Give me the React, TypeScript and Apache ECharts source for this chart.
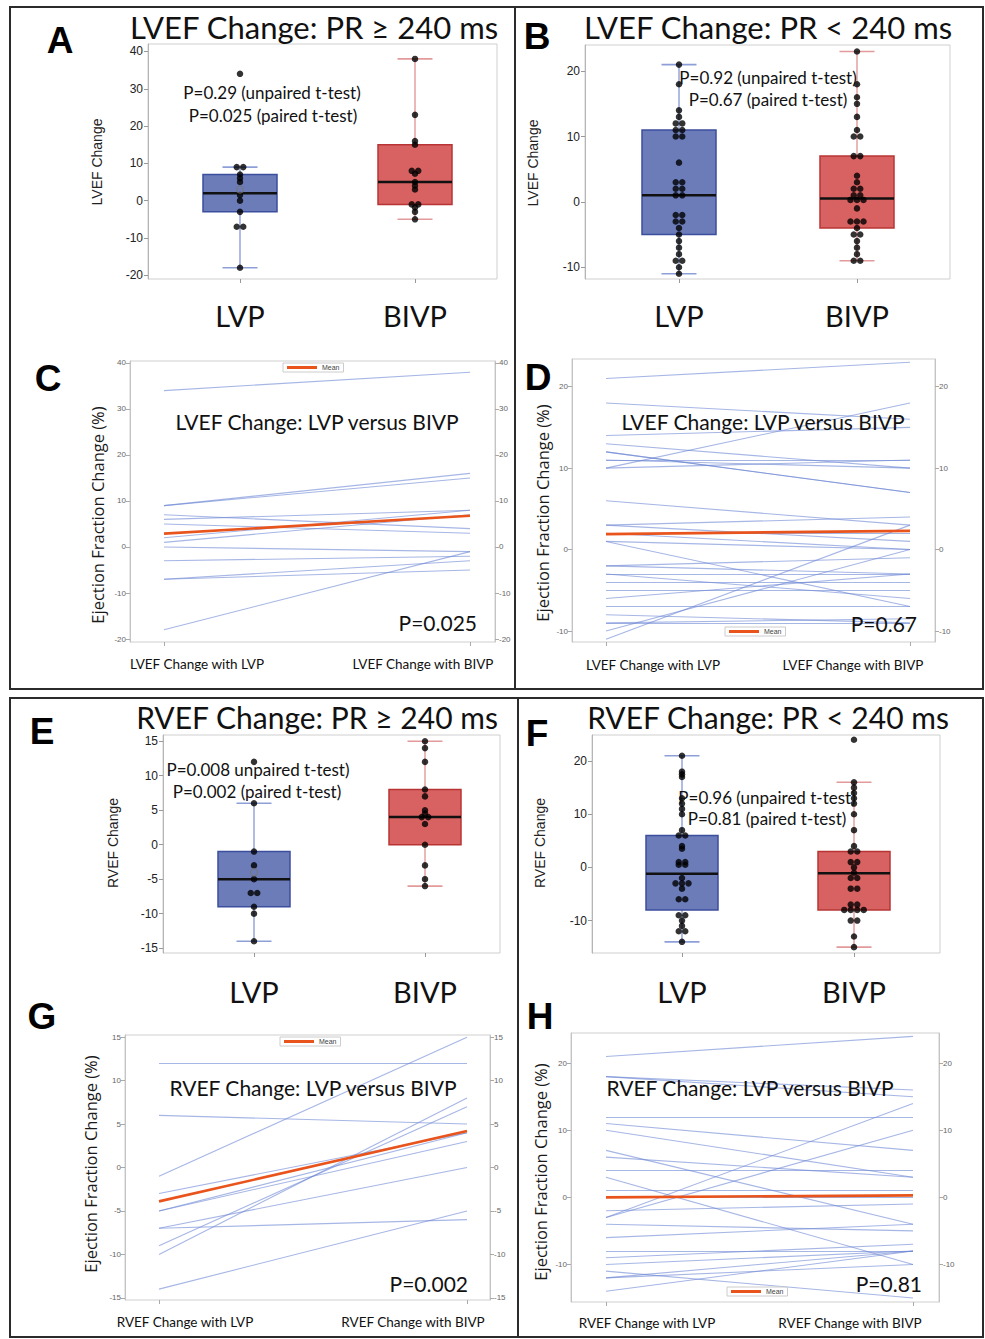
import React, { useEffect, useRef } from "react";
import * as echarts from "echarts";

// ---------------- data ----------------
const boxCategories = ["LVP", "BIVP"];
const lvPairLabels = ["LVEF Change with LVP", "LVEF Change with BIVP"];
const rvPairLabels = ["RVEF Change with LVP", "RVEF Change with BIVP"];

// Panel A: LVEF change, PR >= 240 ms  [low whisker, Q1, median, Q3, high whisker]
const aTicks = [-20, -10, 0, 10, 20, 30, 40];
const aLvpBox = [-18, -3, 2, 7, 9];
const aBivpBox = [-5, -1, 5, 15, 38];
const aLvpDots = [34, 9, 9, 7, 6, 5, 1.5, 0, -3, -7, -7, -18];
const aBivpDots = [38, 23, 16, 15, 8, 8, 7.2, 5, 4, 3, -1, -1, -1.8, -3, -5];
const aLvpMean = 3;

// Panel B: LVEF change, PR < 240 ms
const bTicks = [-10, 0, 10, 20];
const bLvpBox = [-11, -5, 1, 11, 21];
const bBivpBox = [-9, -4, 0.5, 7, 23];
const bLvpDots = [21, 18, 14, 13, 12, 12, 11, 11, 10, 10, 6, 3, 3, 2, 2, 1, 1, -2, -2, -3, -3, -4, -5, -6, -7, -8, -9, -9, -10, -11];
const bBivpDots = [23, 18, 16, 15, 13, 11, 10, 10, 7, 7, 4, 3, 2, 2, 1, 1, 0.3, 0.3, 0.3, -1, -3, -3, -3, -4, -5, -5, -6, -7, -8, -9, -9];

// Panel E: RVEF change, PR >= 240 ms
const eTicks = [-15, -10, -5, 0, 5, 10, 15];
const eLvpBox = [-14, -9, -5, -1, 6];
const eBivpBox = [-6, 0, 4, 8, 15];
const eLvpDots = [12, 6, -1, -3, -5, -7, -7, -9, -10, -14];
const eBivpDots = [15, 14, 12, 8, 7, 5, 4.5, 4, 4, 3, 0, -3, -5, -6];
const eLvpMean = -4;

// Panel F: RVEF change, PR < 240 ms
const fTicks = [-10, 0, 10, 20];
const fLvpBox = [-14, -8, -1.2, 6, 21];
const fBivpBox = [-15, -8, -1.1, 3, 16];
const fLvpDots = [21, 18, 17.5, 17, 13, 12, 11, 10, 7, 6, 6, 4, 3.5, 1, 1, 0.5, 0.5, -2, -3, -3, -3, -4, -6, -6, -9, -9, -10, -11, -12, -12, -14];
const fBivpDots = [24, 16, 15, 14, 13, 12, 10, 7, 4, 3, 3, 1, 1, 0, -1, -2, -2, -4, -4, -7, -7, -8, -8, -8, -8, -10, -10, -13, -15];

// Panel C: paired LVEF change, PR >= 240 ms
const cTicks = [-20, -10, 0, 10, 20, 30, 40];
const cLvp = [34, 9, 9, 7, 6, 5, 2, 1, 0, -3, -7, -7, -18];
const cBivp = [38, 16, 15, 4, 8, 3, 8, 7, -1, -2, -3, -5, -1];
const cMean = [2.9, 6.8];

// Panel D: paired LVEF change, PR < 240 ms
const dTicks = [-10, 0, 10, 20];
const dLvp = [21, 18, 14, 13, 12, 12, 11, 11, 10, 10, 6, 3, 3, 2, 2, 1, 1, -2, -2, -3, -3, -4, -5, -6, -7, -8, -9, -9, -10, -11];
const dBivp = [23, 16, 15, 10, 7, 7, 11, 10, 18, 11, 3, 4, 1, 2, 0, -7, 0, -3, -1, -3, -6, -4, -5, -3, -7, -9, -9, -8.5, 0, 3];
const dMean = [1.9, 2.3];

// Panel G: paired RVEF change, PR >= 240 ms
const gTicks = [-15, -10, -5, 0, 5, 10, 15];
const gLvp = [12, 6, -1, -3, -5, -5, -7, -7, -9, -10, -14];
const gBivp = [12, 5, 15, 4, 4, 3, 0, -6, 7, 8, -5];
const gMean = [-3.9, 4.2];

// Panel H: paired RVEF change, PR < 240 ms
const hTicks = [-10, 0, 10, 20];
const hLvp = [21, 18, 18, 12, 11, 10, 7, 6, 4, 3, 1, 0, -2, -3, -3, -4, -6, -8, -9, -10, -11, -12, -12, -14];
const hBivp = [24, 16, 15, 12, 7, 3, -4, 3, 4, -10, 1, 0, -1, 14, 10, -5, -4, -8, -7, -8, -15, -10, -8, -8];
const hMean = [0, 0.3];

// ---------------- styling / layout ----------------
const FT = 'Lato, "Open Sans", sans-serif';
const FA = '"Liberation Sans", Arial, sans-serif';
const palette = [
  { fill: "#6b7cb9", stroke: "#3c4e9e", whisker: "#8e9fd8" },
  { fill: "#d86262", stroke: "#b83434", whisker: "#e39a9a" },
];

function xRange(left: number, width: number, c0: number, c1: number) {
  const s = c1 - c0;
  return { min: -(c0 - left) / s, max: (left + width - c0) / s };
}

function dotItems(pos: number, values: number[]) {
  const counts = new Map<number, number>();
  values.forEach((v) => counts.set(v, (counts.get(v) || 0) + 1));
  const seen = new Map<number, number>();
  return values.map((v) => {
    const k = counts.get(v) || 1;
    const i = seen.get(v) || 0;
    seen.set(v, i + 1);
    return { value: [pos, v], symbolOffset: [(i - (k - 1) / 2) * 6.5, 0] };
  });
}

function buildOption() {
  const grid: any[] = [];
  const xAxis: any[] = [];
  const yAxis: any[] = [];
  const series: any[] = [];
  const legend: any[] = [];
  const elements: any[] = [];

  const txt = (text: string, x: number, y: number, size: number, o: any = {}) => {
    const align = o.align || "center";
    elements.push({
      type: "text",
      x,
      y,
      rotation: o.rotation || 0,
      z: 100,
      style: {
        text,
        fill: o.color || "#111",
        fontSize: size,
        fontFamily: o.family || FT,
        fontWeight: o.weight || "normal",
        align,
        textAlign: align,
        verticalAlign: "middle",
        textVerticalAlign: "middle",
      },
    });
  };

  const boxPanel = (p: any) => {
    const gi = grid.length;
    grid.push({ left: p.left, top: p.top, width: p.width, height: p.height, show: true, borderColor: "#cfcfcf", borderWidth: 1, backgroundColor: "transparent" });
    const xr = xRange(p.left, p.width, p.c0, p.c1);
    const xi = xAxis.length;
    xAxis.push({
      gridIndex: gi, type: "value", min: xr.min, max: xr.max,
      axisLine: { show: false, onZero: false },
      splitLine: { show: false },
      axisTick: { show: true, customValues: [0, 1], length: 4, lineStyle: { color: "#999" } },
      axisLabel: { show: true, customValues: [0, 1], formatter: (v: number) => boxCategories[Math.round(v)], fontSize: 29, fontFamily: FT, color: "#111", margin: p.labelMargin },
    });
    const yi = yAxis.length;
    yAxis.push({
      gridIndex: gi, type: "value", min: p.yMin, max: p.yMax,
      axisLine: { show: true, onZero: false, lineStyle: { color: "#b5b5b5" } },
      splitLine: { show: false },
      axisTick: { show: true, customValues: p.ticks, length: 4, lineStyle: { color: "#999" } },
      axisLabel: { customValues: p.ticks, fontSize: 12, fontFamily: FA, color: "#222", margin: 5 },
    });
    const hw = p.boxHalf;
    series.push({
      type: "custom", xAxisIndex: xi, yAxisIndex: yi, z: 2, silent: true,
      data: [[0, ...p.lvpBox, 0], [1, ...p.bivpBox, 1]],
      encode: { x: 0, y: [1, 2, 3, 4, 5] },
      renderItem: (_params: any, api: any) => {
        const x = api.value(0);
        const g = palette[api.value(6)];
        const lo = api.coord([x, api.value(1)]);
        const q1 = api.coord([x, api.value(2)]);
        const md = api.coord([x, api.value(3)]);
        const q3 = api.coord([x, api.value(4)]);
        const hi = api.coord([x, api.value(5)]);
        const cx = lo[0];
        const cap = 17.5;
        return {
          type: "group",
          children: [
            { type: "line", shape: { x1: cx, y1: hi[1], x2: cx, y2: lo[1] }, style: { stroke: g.whisker, lineWidth: 1.4 } },
            { type: "line", shape: { x1: cx - cap, y1: hi[1], x2: cx + cap, y2: hi[1] }, style: { stroke: g.whisker, lineWidth: 1.6 } },
            { type: "line", shape: { x1: cx - cap, y1: lo[1], x2: cx + cap, y2: lo[1] }, style: { stroke: g.whisker, lineWidth: 1.6 } },
            { type: "rect", shape: { x: cx - hw, y: q3[1], width: hw * 2, height: q1[1] - q3[1] }, style: { fill: g.fill, stroke: g.stroke, lineWidth: 1.5 } },
            { type: "line", shape: { x1: cx - hw, y1: md[1], x2: cx + hw, y2: md[1] }, style: { stroke: "#111", lineWidth: 2.5 } },
          ],
        };
      },
    });
    series.push({
      type: "scatter", xAxisIndex: xi, yAxisIndex: yi, z: 4, silent: true,
      symbol: "circle", symbolSize: 6.5, itemStyle: { color: "#000" },
      data: [...dotItems(0, p.lvpDots), ...dotItems(1, p.bivpDots)],
    });
    if (p.lvpMean !== undefined) {
      series.push({
        type: "scatter", xAxisIndex: xi, yAxisIndex: yi, z: 5, silent: true,
        symbol: "circle", symbolSize: 7,
        itemStyle: { color: "rgba(0,0,0,0)", borderColor: "#777", borderWidth: 1.3 },
        data: [[0, p.lvpMean]],
      });
    }
  };

  const linePanel = (p: any) => {
    const gi = grid.length;
    grid.push({ left: p.left, top: p.top, width: p.width, height: p.height, show: true, borderColor: "#cfcfcf", borderWidth: 1, backgroundColor: "transparent" });
    const xr = xRange(p.left, p.width, p.c0, p.c1);
    const xi = xAxis.length;
    xAxis.push({
      gridIndex: gi, type: "value", min: xr.min, max: xr.max,
      axisLine: { show: false, onZero: false },
      splitLine: { show: false },
      axisTick: { show: true, customValues: [0, 1], length: 4, lineStyle: { color: "#aaa" } },
      axisLabel: { show: false },
    });
    const yi = yAxis.length;
    ["left", "right"].forEach((pos) => {
      yAxis.push({
        gridIndex: gi, type: "value", position: pos, min: p.yMin, max: p.yMax,
        axisLine: { show: true, onZero: false, lineStyle: { color: "#c4c4c4" } },
        splitLine: { show: false },
        axisTick: { show: true, customValues: p.ticks, length: 4, lineStyle: { color: "#aaa" } },
        axisLabel: { customValues: p.ticks, fontSize: 8, fontFamily: FA, color: "#666", margin: 4 },
      });
    });
    series.push({
      type: "lines", coordinateSystem: "cartesian2d", xAxisIndex: xi, yAxisIndex: yi, z: 2, silent: true,
      lineStyle: { color: "#6a86d4", width: 1.1, opacity: 0.6 },
      data: p.lvp.map((a: number, i: number) => ({ coords: [[0, a], [1, p.bivp[i]]] })),
    });
    series.push({
      type: "line", name: "Mean", xAxisIndex: xi, yAxisIndex: yi, z: 3, silent: true,
      symbol: "none", lineStyle: { color: "#e8541c", width: 2.6 }, itemStyle: { color: "#e8541c" },
      data: [[0, p.mean[0]], [1, p.mean[1]]],
    });
    legend.push({
      left: p.legLeft, top: p.legTop, data: ["Mean"], icon: "rect", itemWidth: 30, itemHeight: 3, itemGap: 0,
      selectedMode: false, padding: [1, 4], borderColor: "#cccccc", borderWidth: 1,
      textStyle: { fontSize: 7, color: "#444", fontFamily: FA },
    });
    txt(p.title, p.titleX, p.titleY, 21);
    txt(p.pText, p.pX, p.pY, 21, { align: "right" });
    txt(p.labels[0], p.l0x, p.ly, 13.5);
    txt(p.labels[1], p.l1x, p.ly, 13.5);
    txt("Ejection Fraction Change (%)", p.nameX, p.nameY, 16.5, { rotation: Math.PI / 2, family: '"Open Sans", sans-serif', color: "#1a1a1a" });
  };

  // ---- box panels
  boxPanel({ left: 148, top: 44, width: 349, height: 235, c0: 240, c1: 415, yMin: -21, yMax: 42, ticks: aTicks, lvpBox: aLvpBox, bivpBox: aBivpBox, lvpDots: aLvpDots, bivpDots: aBivpDots, lvpMean: aLvpMean, boxHalf: 37, labelMargin: 22 });
  boxPanel({ left: 585, top: 45, width: 365, height: 234, c0: 679, c1: 857, yMin: -11.8, yMax: 24, ticks: bTicks, lvpBox: bLvpBox, bivpBox: bBivpBox, lvpDots: bLvpDots, bivpDots: bBivpDots, boxHalf: 37, labelMargin: 22 });
  boxPanel({ left: 163, top: 735, width: 337, height: 218, c0: 254, c1: 425, yMin: -15.7, yMax: 15.9, ticks: eTicks, lvpBox: eLvpBox, bivpBox: eBivpBox, lvpDots: eLvpDots, bivpDots: eBivpDots, lvpMean: eLvpMean, boxHalf: 36, labelMargin: 24 });
  boxPanel({ left: 592, top: 735, width: 348, height: 218, c0: 682, c1: 854, yMin: -16.1, yMax: 24.9, ticks: fTicks, lvpBox: fLvpBox, bivpBox: fBivpBox, lvpDots: fLvpDots, bivpDots: fBivpDots, boxHalf: 36, labelMargin: 24 });

  // ---- paired line panels
  linePanel({ left: 130, top: 361, width: 365, height: 281, c0: 164, c1: 470, yMin: -20.65, yMax: 40.43, ticks: cTicks, lvp: cLvp, bivp: cBivp, mean: cMean, legLeft: 283, legTop: 363, title: "LVEF Change: LVP versus BIVP", titleX: 317, titleY: 421, pText: "P=0.025", pX: 477, pY: 622, labels: lvPairLabels, l0x: 197, l1x: 423, ly: 664, nameX: 97, nameY: 515 });
  linePanel({ left: 572, top: 359, width: 363, height: 283, c0: 606, c1: 910, yMin: -11.35, yMax: 23.4, ticks: dTicks, lvp: dLvp, bivp: dBivp, mean: dMean, legLeft: 725, legTop: 627, title: "LVEF Change: LVP versus BIVP", titleX: 763, titleY: 421, pText: "P=0.67", pX: 917, pY: 623, labels: lvPairLabels, l0x: 653, l1x: 853, ly: 665, nameX: 542, nameY: 513 });
  linePanel({ left: 125, top: 1035, width: 365, height: 265, c0: 159, c1: 467, yMin: -15.25, yMax: 15.25, ticks: gTicks, lvp: gLvp, bivp: gBivp, mean: gMean, legLeft: 280, legTop: 1037, title: "RVEF Change: LVP versus BIVP", titleX: 313, titleY: 1087, pText: "P=0.002", pX: 468, pY: 1283, labels: rvPairLabels, l0x: 185, l1x: 413, ly: 1322, nameX: 90, nameY: 1164 });
  linePanel({ left: 571, top: 1033, width: 368, height: 269, c0: 606, c1: 913, yMin: -15.6, yMax: 24.5, ticks: hTicks, lvp: hLvp, bivp: hBivp, mean: hMean, legLeft: 727, legTop: 1287, title: "RVEF Change: LVP versus BIVP", titleX: 750, titleY: 1087, pText: "P=0.81", pX: 922, pY: 1283, labels: rvPairLabels, l0x: 647, l1x: 850, ly: 1323, nameX: 540, nameY: 1172 });

  // ---- titles
  txt("LVEF Change: PR \u2265 240 ms", 314, 27, 31);
  txt("LVEF Change: PR < 240 ms", 768, 27, 31);
  txt("RVEF Change: PR \u2265 240 ms", 317, 717, 30);
  txt("RVEF Change: PR < 240 ms", 768, 717, 30);

  // ---- panel letters
  const letter = (t: string, x: number, y: number) => txt(t, x, y, 37, { family: FA, weight: "bold", color: "#000" });
  letter("A", 60, 40);
  letter("B", 537, 36);
  letter("C", 48, 378);
  letter("D", 538, 377);
  letter("E", 42, 731);
  letter("F", 537, 733);
  letter("G", 42, 1016);
  letter("H", 540, 1016);

  // ---- p-values in box panels
  txt("P=0.29 (unpaired t-test)", 272, 92, 17);
  txt("P=0.025 (paired t-test)", 273, 115, 17);
  txt("P=0.92 (unpaired t-test)", 768, 77, 17);
  txt("P=0.67 (paired t-test)", 768, 99, 17);
  txt("P=0.008 unpaired t-test)", 258, 769, 17);
  txt("P=0.002 (paired t-test)", 257, 791, 17);
  txt("P=0.96 (unpaired t-test)", 767, 797, 17);
  txt("P=0.81 (paired t-test)", 767, 818, 17);

  // ---- box panel axis names
  const yname = (t: string, x: number, y: number) => txt(t, x, y, 14, { family: FA, rotation: Math.PI / 2, color: "#222" });
  yname("LVEF Change", 97, 162);
  yname("LVEF Change", 533, 163);
  yname("RVEF Change", 113, 843);
  yname("RVEF Change", 540, 843);

  // ---- frames
  const frame = "#2b2b2b";
  elements.push({ type: "rect", z: 90, shape: { x: 10, y: 7, width: 973, height: 682 }, style: { fill: "transparent", stroke: frame, lineWidth: 2 } });
  elements.push({ type: "line", z: 90, shape: { x1: 515, y1: 7, x2: 515, y2: 689 }, style: { stroke: frame, lineWidth: 2 } });
  elements.push({ type: "rect", z: 90, shape: { x: 10, y: 698, width: 973, height: 639 }, style: { fill: "transparent", stroke: frame, lineWidth: 2 } });
  elements.push({ type: "line", z: 90, shape: { x1: 518, y1: 698, x2: 518, y2: 1337 }, style: { stroke: frame, lineWidth: 2 } });

  return {
    animation: false,
    backgroundColor: "#ffffff",
    grid,
    xAxis,
    yAxis,
    legend,
    series,
    graphic: { elements },
  };
}

export default function App() {
  const ref = useRef<HTMLDivElement>(null);
  useEffect(() => {
    if (!ref.current) return;
    const chart = echarts.init(ref.current, undefined, { renderer: "svg" });
    chart.setOption(buildOption() as any);
    return () => chart.dispose();
  }, []);
  return <div ref={ref} style={{ position: "absolute", left: 0, top: 0, width: 985, height: 1339, background: "#fff" }} />;
}
